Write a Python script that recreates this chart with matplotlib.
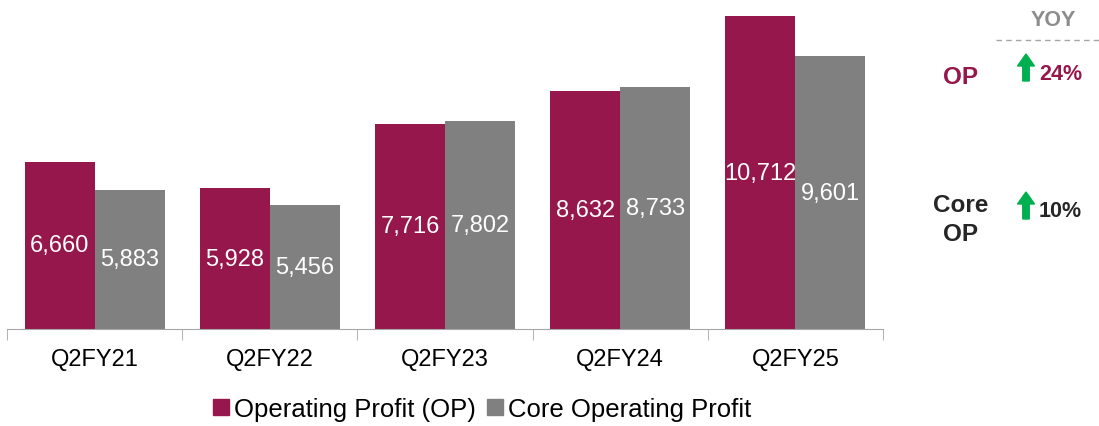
import matplotlib.pyplot as plt
import numpy as np
from matplotlib.patches import FancyArrow
from matplotlib.lines import Line2D
from matplotlib.transforms import Affine2D

# Data
quarters = ['Q2FY21', 'Q2FY22', 'Q2FY23', 'Q2FY24', 'Q2FY25']
op_values = [6660, 5928, 7716, 8632, 10712]
core_op_values = [5883, 5456, 7802, 8733, 9601]
yoy_labels = ['OP', 'Core\nOP']
yoy_values = ['24%', '10%']

MAROON = '#96174B'
GREY = '#808080'
GREEN = '#00B050'
DARK = '#262626'

plt.rcParams['font.family'] = ['Liberation Sans', 'DejaVu Sans']

W, H = 1099, 427
fig = plt.figure(figsize=(W / 100, H / 100), dpi=100)
ax = fig.add_axes([7 / W, 1 - 330 / H, 876 / W, 323 / H])

# pixel coords (origin top-left) -> figure
px = Affine2D().scale(1 / W, -1 / H).translate(0, 1) + fig.transFigure

x = np.arange(len(quarters))
w = 0.4
bars_op = ax.bar(x - w / 2, op_values, w, color=MAROON, label='Operating Profit (OP)')
bars_core = ax.bar(x + w / 2, core_op_values, w, color=GREY, label='Core Operating Profit')

ymin = 2000
ax.set_ylim(ymin, 11000)
ax.set_xlim(-0.5, len(quarters) - 0.5)

# value labels centred in the visible part of each bar
for bars, vals in [(bars_op, op_values), (bars_core, core_op_values)]:
    for b, v in zip(bars, vals):
        ax.text(b.get_x() + b.get_width() / 2, (v + ymin) / 2, f'{v:,}',
                ha='center', va='center', color='white', fontsize=17)

for s in ['top', 'right', 'left']:
    ax.spines[s].set_visible(False)
ax.spines['bottom'].set_color('#A6A6A6')
ax.set_yticks([])
ax.set_xticks(x)
ax.set_xticklabels(quarters, fontsize=17)
ax.tick_params(axis='x', which='major', length=0, pad=14)
ax.set_xticks(np.arange(-0.5, len(quarters)), minor=True)
ax.tick_params(axis='x', which='minor', length=8, color='#A6A6A6')

handles = [Line2D([], [], marker='s', color=MAROON, linestyle='', markersize=12),
           Line2D([], [], marker='s', color=GREY, linestyle='', markersize=12)]
fig.legend(handles, ['Operating Profit (OP)', 'Core Operating Profit'],
           loc='center', bbox_to_anchor=(480 / W, 1 - 410 / H), ncol=2, frameon=False,
           fontsize=18.5, handletextpad=0.05, columnspacing=0.3, handlelength=0.9)

# YOY panel
fig.text(1053, 20, 'YOY', ha='center', va='center', transform=px,
         fontsize=15.5, fontweight='bold', color='#8C8C8C')
fig.add_artist(Line2D([996, W], [41, 41], transform=px,
                      color='#A6A6A6', linestyle=(0, (4, 3)), linewidth=1))

row_y = [78, 220]
val_y = [74, 212]
colors = [MAROON, DARK]
arrow_base = [82, 220]
for lab, val, ly, vy, c, ab in zip(yoy_labels, yoy_values, row_y, val_y, colors, arrow_base):
    fig.text(961, ly, lab, ha='center', va='center', transform=px, fontsize=17.5,
             fontweight='bold', color=c, linespacing=1.3)
    fig.text(1039, vy, val, ha='left', va='center', transform=px, fontsize=15.5,
             fontweight='bold', color=c)
    fig.add_artist(FancyArrow(1026, ab, 0, -27, width=6.5, head_width=17,
                              head_length=12, length_includes_head=True,
                              color=GREEN, transform=px))

fig.savefig('out.png', dpi=100)
